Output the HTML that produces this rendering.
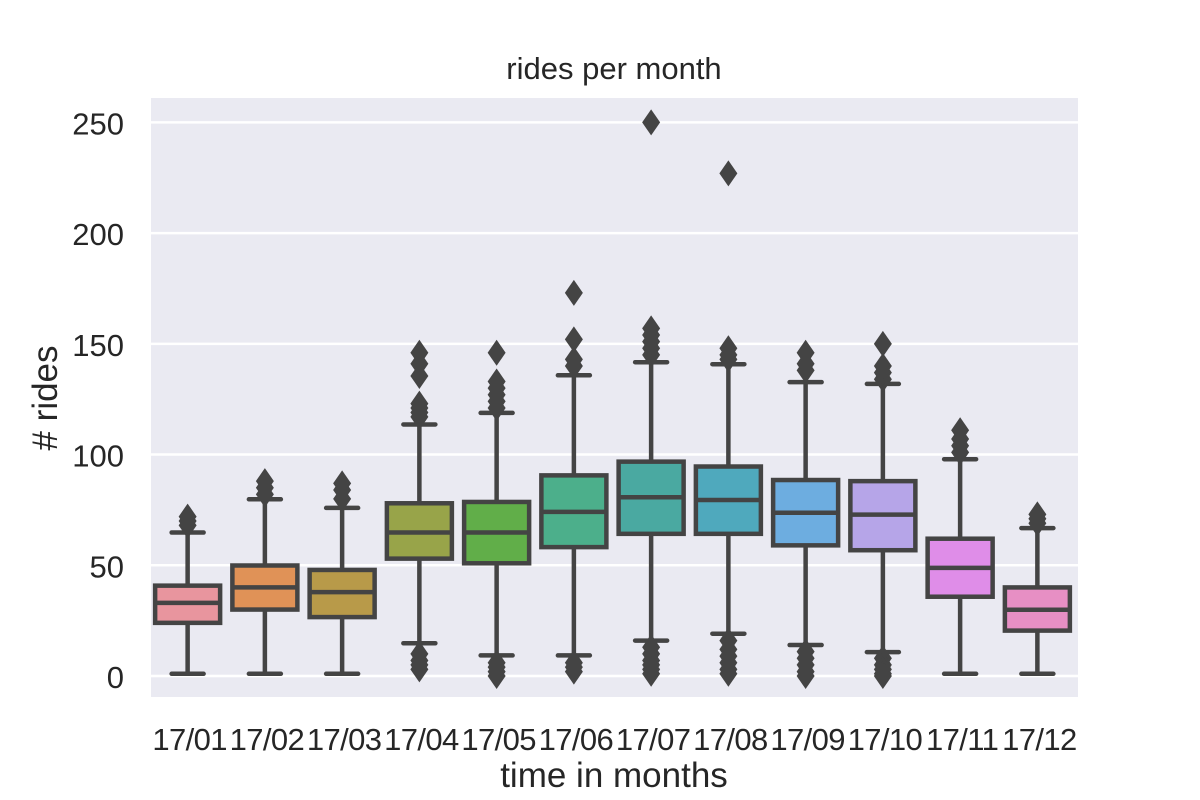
<!DOCTYPE html>
<html><head><meta charset="utf-8"><style>
body{margin:0;background:#fff;}
svg{display:block;font-family:"Liberation Sans",Arial,sans-serif;}
</style></head><body>
<svg id="chart" width="1200" height="800"></svg>
<script>
const categories=["17/01","17/02","17/03","17/04","17/05","17/06","17/07","17/08","17/09","17/10","17/11","17/12"];
const whiskerLow=[1,1,1,14.8,9.3,9.3,16,19.1,14,10.8,1,1];
const q1=[24,30,26.6,53,50.9,58.2,64.2,64.2,59,56.8,35.8,20.5];
const medians=[33,40,37.9,64.8,64.8,74.1,80.7,79.5,73.7,72.9,48.8,29.9];
const q3=[40.8,49.9,47.9,78,78.6,90.6,96.8,94.6,88.5,88,62,40];
const whiskerHigh=[64.8,79.8,75.9,113.6,118.8,135.8,141.7,140.8,132.7,131.9,97.9,66.8];
const outliers=[[68,70,72],[82,85,88],[80,84,87],[117,119,121,123,135.5,141,146,10,7,5,3],[121,124,127,130,133,146,6,4,2,0],[140,143,152,173,6,4,2],[145,148,151,154,157,250,13,10,7,5,3,1],[143,145,148,227,16,12,9,6,3,1],[138,141,146,11,8,5,2,0],[134,137,140,150,8,5,3,1,0],[101,104,107,111],[69,71,73]];
const colors=["#e8959e","#e09257","#b89a49","#98a449","#61ae49","#4caf8b","#4aa9a1","#4fa9bd","#6dade0","#b6a5e8","#df8de8","#e78fc4"];
const yTicks=[0,50,100,150,200,250];

const NS="http://www.w3.org/2000/svg";
const svg=document.getElementById('chart');
const L=151,R=1078,T=98,B=697;
const y0px=676,perUnit=2.2144;
const y=v=>y0px-v*perUnit;
const band=(R-L)/categories.length;
const xc=i=>L+band*(i+0.5);
function mk(tag,attrs,parent){const e=document.createElementNS(NS,tag);for(const k in attrs)e.setAttribute(k,attrs[k]);(parent||svg).appendChild(e);return e;}

const bg=mk('rect',{x:L,y:T,width:R-L,height:B-T,fill:'#eaeaf2'});



yTicks.forEach(t=>{
  const g=mk('line',{x1:L,x2:R,y1:y(t),y2:y(t),stroke:'#fff','stroke-width':2.5});
  
  
  const lb=mk('text',{x:124,y:y(t)+12,'text-anchor':'end','font-size':31,fill:'#262626'});
  lb.textContent=t;
  
  
});

const stroke='#444',sw=4.5;
categories.forEach((c,i)=>{
  const g=mk('g',{});
  
  
  const cx=xc(i)-2,w=65;
  mk('line',{x1:cx,x2:cx,y1:y(whiskerLow[i]),y2:y(q1[i]),stroke:stroke,'stroke-width':sw},g);
  mk('line',{x1:cx,x2:cx,y1:y(q3[i]),y2:y(whiskerHigh[i]),stroke:stroke,'stroke-width':sw},g);
  mk('line',{x1:cx-16,x2:cx+16,y1:y(whiskerLow[i]),y2:y(whiskerLow[i]),stroke:stroke,'stroke-width':sw,'stroke-linecap':'round'},g);
  mk('line',{x1:cx-16,x2:cx+16,y1:y(whiskerHigh[i]),y2:y(whiskerHigh[i]),stroke:stroke,'stroke-width':sw,'stroke-linecap':'round'},g);
  mk('rect',{x:cx-w/2,y:y(q3[i]),width:w,height:y(q1[i])-y(q3[i]),fill:colors[i],stroke:stroke,'stroke-width':sw},g);
  mk('line',{x1:cx-w/2,x2:cx+w/2,y1:y(medians[i]),y2:y(medians[i]),stroke:stroke,'stroke-width':sw},g);
  outliers[i].forEach(v=>{
    const py=y(v);
    const d=mk('polygon',{points:`${cx},${py-13} ${cx+9},${py} ${cx},${py+13} ${cx-9},${py}`,fill:stroke},g);
    
    
  });
  const lb=mk('text',{x:cx+2,y:750,'text-anchor':'middle','font-size':31,'letter-spacing':'-0.6',fill:'#262626'});
  lb.textContent=c;
  
  
});

const title=mk('text',{x:614,y:79,'text-anchor':'middle','font-size':31,fill:'#262626'});
title.textContent='rides per month';


const xl=mk('text',{x:614,y:787,'text-anchor':'middle','font-size':35,fill:'#262626'});
xl.textContent='time in months';


const yl=mk('text',{x:0,y:0,'text-anchor':'middle','font-size':35,fill:'#262626',transform:'translate(57,398) rotate(-90)'});
yl.textContent='# rides';


</script>
</body></html>
